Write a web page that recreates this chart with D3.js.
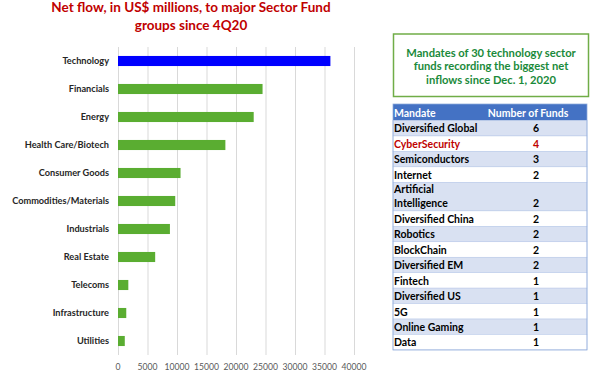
<!DOCTYPE html>
<html>
<head>
<meta charset="utf-8">
<script src="https://cdn.jsdelivr.net/npm/d3@7"></script>
<style>
  body { margin: 0; background: #fff; }
  svg { display: block; font-family: Lato, "Open Sans", sans-serif; }
</style>
</head>
<body>
<script>
// net flow per sector, US$ millions
var categories = ["Technology", "Financials", "Energy", "Health Care/Biotech", "Consumer Goods",
  "Commodities/Materials", "Industrials", "Real Estate", "Telecoms", "Infrastructure", "Utilities"];
var flows = [36000, 24500, 23000, 18200, 10600, 9700, 8800, 6300, 1750, 1400, 1150];
var xTicks = [0, 5000, 10000, 15000, 20000, 25000, 30000, 35000, 40000];

// table of mandates
var mandates = ["Diversified Global", "CyberSecurity", "Semiconductors", "Internet",
  "Artificial\nIntelligence", "Diversified China", "Robotics", "BlockChain", "Diversified EM",
  "Fintech", "Diversified US", "5G", "Online Gaming", "Data"];
var fundCounts = [6, 4, 3, 2, 2, 2, 2, 2, 2, 1, 1, 1, 1, 1];

var width = 600, height = 383;

var svg = d3.select("body").append("svg")
    .attr("width", width)
    .attr("height", height);

// title
var title = svg.append("text")
    .attr("x", 191)
    .attr("y", 12)
    .attr("text-anchor", "middle")
    .style("font-weight", "bold")
    .style("font-size", "13.5px")
    .style("fill", "#c00000");
title.append("tspan").attr("x", 191).text("Net flow, in US$ millions, to major Sector Fund");
title.append("tspan").attr("x", 191).attr("dy", 18).text("groups since 4Q20");

// bar chart
var x = d3.scaleLinear().domain([0, 40000]).range([118, 354]);
var y = d3.scaleBand().domain(categories).range([47, 355]).paddingInner(0.64).paddingOuter(0.32);

svg.append("g")
    .selectAll("line")
    .data(xTicks)
    .enter().append("line")
    .attr("x1", function(d) { return x(d) + 0.5; })
    .attr("x2", function(d) { return x(d) + 0.5; })
    .attr("y1", 47)
    .attr("y2", 355)
    .style("stroke", "#d9d9d9")
    .style("stroke-width", 1);

svg.append("g")
    .selectAll("rect")
    .data(categories)
    .enter().append("rect")
    .attr("x", x(0))
    .attr("y", function(d) { return y(d); })
    .attr("width", function(d, i) { return x(flows[i]) - x(0); })
    .attr("height", y.bandwidth())
    .style("fill", function(d, i) { return i === 0 ? "#0000ff" : "#5aad31"; });

svg.append("g")
    .selectAll("text")
    .data(categories)
    .enter().append("text")
    .attr("x", 109)
    .attr("y", function(d) { return y(d) + y.bandwidth() / 2; })
    .attr("dy", "0.35em")
    .attr("text-anchor", "end")
    .style("font-weight", "bold")
    .style("font-size", "9.2px")
    .style("fill", "#262626")
    .text(function(d) { return d; });

svg.append("g")
    .selectAll("text")
    .data(xTicks)
    .enter().append("text")
    .attr("x", function(d) { return x(d); })
    .attr("y", 370)
    .attr("text-anchor", "middle")
    .style("font-size", "8.6px")
    .style("fill", "#595959")
    .text(function(d) { return d; });

// green note box
svg.append("rect")
    .attr("x", 393.5).attr("y", 34)
    .attr("width", 195).attr("height", 62.5)
    .style("fill", "#fff")
    .style("stroke", "#70ad47")
    .style("stroke-width", 1.5);

var note = svg.append("text")
    .attr("text-anchor", "middle")
    .style("font-weight", "bold")
    .style("font-size", "11.2px")
    .style("fill", "#1a8a3a");
["Mandates of 30 technology sector", "funds recording the biggest net", "inflows since Dec. 1, 2020"]
  .forEach(function(t, i) {
    note.append("tspan").attr("x", 491).attr("y", 57 + i * 13.3).text(t);
  });

// table
var tableLeft = 393, tableRight = 587, headerH = 16.5, rowH = 15.45;
var rowTops = [], yCursor = 104 + headerH;
mandates.forEach(function(m) {
  var h = m.indexOf("\n") >= 0 ? rowH * 1.85 : rowH;
  rowTops.push({ y: yCursor, h: h });
  yCursor += h;
});

var table = svg.append("g");

table.append("rect")
    .attr("x", tableLeft).attr("y", 104)
    .attr("width", tableRight - tableLeft).attr("height", headerH)
    .style("fill", "#4472c4");

table.append("text")
    .attr("x", 394).attr("y", 104 + headerH - 4)
    .style("font-weight", "bold").style("font-size", "10.5px").style("fill", "#fff")
    .text("Mandate");
table.append("text")
    .attr("x", 528).attr("y", 104 + headerH - 4)
    .attr("text-anchor", "middle")
    .style("font-weight", "bold").style("font-size", "10.5px").style("fill", "#fff")
    .text("Number of Funds");

var rows = table.selectAll("g.row")
    .data(mandates)
    .enter().append("g")
    .attr("class", "row");

rows.append("rect")
    .attr("x", tableLeft)
    .attr("y", function(d, i) { return rowTops[i].y; })
    .attr("width", tableRight - tableLeft)
    .attr("height", function(d, i) { return rowTops[i].h; })
    .style("fill", function(d, i) { return i % 2 === 0 ? "#d9e1f2" : "#ffffff"; })
    .style("stroke", "#b4c6e7")
    .style("stroke-width", 0.5);

rows.each(function(d, i) {
  var g = d3.select(this);
  var color = d === "CyberSecurity" ? "#c00000" : "#000";
  var lines = d.split("\n");
  var bottom = rowTops[i].y + rowTops[i].h - 3.5;
  lines.forEach(function(l, j) {
    g.append("text")
        .attr("x", 394)
        .attr("y", bottom - (lines.length - 1 - j) * 14)
        .style("font-weight", "bold").style("font-size", "10.5px").style("fill", color)
        .text(l);
  });
  g.append("text")
      .attr("x", 536)
      .attr("y", bottom)
      .attr("text-anchor", "middle")
      .style("font-weight", "bold").style("font-size", "10.5px").style("fill", color)
      .text(fundCounts[i]);
});

table.append("rect")
    .attr("x", tableLeft).attr("y", 104)
    .attr("width", tableRight - tableLeft).attr("height", yCursor - 104)
    .style("fill", "none")
    .style("stroke", "#8ea9db")
    .style("stroke-width", 0.75);
</script>
</body>
</html>
